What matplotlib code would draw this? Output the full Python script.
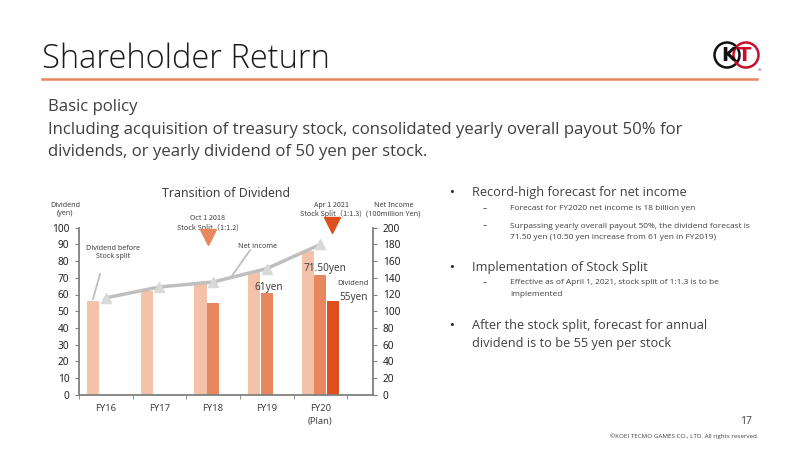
import matplotlib
matplotlib.use("Agg")
import matplotlib.pyplot as plt
from matplotlib.patches import Circle
import numpy as np

plt.rcParams['font.family'] = ['Noto Sans', 'DejaVu Sans']

# ---- data ----
categories = ["FY16", "FY17", "FY18", "FY19", "FY20\n(Plan)"]
div_before_split = [56, 62, 66, 73.2, 86]          # before any split (yen)
div_after_split1 = [np.nan, np.nan, 55, 61, 71.5]  # after Oct 2018 split (1:1.2)
div_after_split2 = [np.nan, np.nan, np.nan, np.nan, 56]  # after Apr 2021 split (1:1.3)
net_income = [116, 129, 135, 151, 180]             # 100 million yen
left_ticks = list(range(0, 101, 10))
right_ticks = list(range(0, 201, 20))

C_LIGHT = "#F4C1A9"
C_MED = "#E8875F"
C_DARK = "#DD501E"
C_LINE = "#BFBFBF"
C_TXT = "#404040"

W, H = 800, 450
fig = plt.figure(figsize=(8, 4.5), dpi=100)
fig.patch.set_facecolor("white")

def fx(x): return x / W
def fy(y): return 1 - y / H

OS = ["Open Sans", "DejaVu Sans"]

# ---- slide header ----
fig.text(fx(42), fy(68), "Shareholder Return", fontsize=23.5, color="#1a1a1a",
         family=OS, fontweight="light", va="baseline")
fig.add_artist(plt.Line2D([fx(42), fx(757)], [fy(79), fy(79)], color="#E8845C", lw=1.8))

# logo
lax = fig.add_axes([fx(712), fy(72), 50 / W, 34 / H])
lax.set_xlim(0, 50); lax.set_ylim(0, 34); lax.set_aspect("equal"); lax.axis("off")
lax.add_patch(Circle((15, 17), 12.5, fill=False, ec="#111111", lw=1.8))
lax.add_patch(Circle((34, 17), 12.5, fill=False, ec="#C8102E", lw=1.8))
lax.text(16.5, 16.5, "K", ha="center", va="center", fontsize=14, fontweight="bold", color="#111111",
         family="DejaVu Sans")
lax.text(32.5, 16.5, "T", ha="center", va="center", fontsize=14, fontweight="bold", color="#C8102E",
         family="DejaVu Sans")
lax.text(48, 2, "®", ha="center", va="center", fontsize=3, color="#333333")

# basic policy
for yy, t in [(107, "Basic policy"),
              (130, "Including acquisition of treasury stock, consolidated yearly overall payout 50% for"),
              (152, "dividends, or yearly dividend of 50 yen per stock.")]:
    fig.text(fx(48), fy(yy), t, fontsize=12.1, color=C_TXT, va="center", family=OS)

# right bullets
def bullet(y, txt):
    fig.text(fx(452), fy(y), "•", fontsize=9.5, color="#222222", va="center", ha="center")
    fig.text(fx(472), fy(y), txt, fontsize=9.2, color=C_TXT, va="center", family=OS)
def sub(y, txt, dash=True):
    if dash:
        fig.text(fx(485), fy(y), "–", fontsize=6, color=C_TXT, va="center", ha="center")
    fig.text(fx(510), fy(y), txt, fontsize=6.0, color=C_TXT, va="center", family=OS)

bullet(192, "Record-high forecast for net income")
sub(209, "Forecast for FY2020 net income is 18 billion yen")
sub(226, "Surpassing yearly overall payout 50%, the dividend forecast is")
sub(238, "71.50 yen (10.50 yen increase from 61 yen in FY2019)", dash=False)
bullet(267, "Implementation of Stock Split")
sub(283, "Effective as of April 1, 2021, stock split of 1:1.3 is to be")
sub(295, "implemented", dash=False)
bullet(325, "After the stock split, forecast for annual")
fig.text(fx(472), fy(343), "dividend is to be 55 yen per stock", fontsize=9.2, color=C_TXT,
         va="center", family=OS)

fig.text(fx(752), fy(422), "17", fontsize=7.5, color=C_TXT, ha="right", va="center", family=OS)
fig.text(fx(758), fy(436), "©KOEI TECMO GAMES CO., LTD. All rights reserved.", fontsize=4.5,
         color=C_TXT, ha="right", va="center", family=OS)

# ---- chart ----
ax = fig.add_axes([fx(79), fy(394.7), (373 - 79) / W, (394.7 - 227.7) / H])
x = np.arange(len(categories))
bw = 0.225
off = 0.235
ax.bar(x - off, div_before_split, bw, color=C_LIGHT, zorder=2)
ax.bar(x, div_after_split1, bw, color=C_MED, zorder=2)
ax.bar(x + off, div_after_split2, bw, color=C_DARK, zorder=2)
ax.set_xlim(-0.5, 4.98)
ax.set_ylim(0, 100)
ax.set_yticks(left_ticks)
ax.set_xticks(x)
ax.set_xticklabels(categories, fontsize=6.8, color=C_TXT, linespacing=1.45)
ax.set_xticks(np.arange(-0.5, 4.6, 1.0), minor=True)
ax.tick_params(axis="x", which="major", length=0, pad=7)
ax.tick_params(axis="x", which="minor", length=3, color="#808080", direction="out")
ax.tick_params(axis="y", labelsize=7.3, labelcolor="#222222", length=3, color="#808080", pad=4)
for s in ["top", "right"]:
    ax.spines[s].set_visible(False)
for s in ["left", "bottom"]:
    ax.spines[s].set_color("#808080")
    ax.spines[s].set_linewidth(1.3)

ax2 = ax.twinx()
ax2.set_ylim(0, 200)
ax2.set_yticks(right_ticks)
ax2.plot(x, net_income, color=C_LINE, lw=2.5, marker="^", markersize=7,
         markerfacecolor="#D9D9D9", markeredgecolor="#D9D9D9", zorder=3, clip_on=False)
ax2.tick_params(axis="y", labelsize=7.3, labelcolor="#222222", length=3, color="#808080", pad=4)
for s in ["top", "left", "bottom"]:
    ax2.spines[s].set_visible(False)
ax2.spines["right"].set_color("#808080")
ax2.spines["right"].set_linewidth(1.3)

# annotations (in dividend data coords)
tk = dict(color=C_TXT, clip_on=False, zorder=5)
ax.text(2.24, 120.2, "Transition of Dividend", fontsize=8.9, ha="center", va="center", **tk)
ax.text(-0.76, 110.6, "Dividend\n(yen)", fontsize=5.2, ha="center", va="center", linespacing=1.2, **tk)
ax.text(5.36, 110.6, "Net Income\n(100million Yen)", fontsize=5.2, ha="center", va="center",
        linespacing=1.2, **tk)
ax.text(1.90, 102.8, "Oct 1 2018\nStock Split（1:1.2)", fontsize=5.2, ha="center", va="center",
        linespacing=1.2, family=["Noto Sans CJK JP", "DejaVu Sans"], **tk)
ax.text(4.20, 110.8, "Apr 1 2021\nStock Split（1:1.3)", fontsize=5.2, ha="center", va="center",
        linespacing=1.2, family=["Noto Sans CJK JP", "DejaVu Sans"], **tk)
ax.plot([1.907], [94.4], marker="v", markersize=11, color=C_MED, clip_on=False, zorder=5)
ax.plot([4.22], [101.6], marker="v", markersize=11, color=C_DARK, clip_on=False, zorder=5)

ax.text(0.134, 85.1, "Dividend before\nStock split", fontsize=5.2, ha="center", va="center",
        linespacing=1.3, **tk)
ax.plot([-0.108, -0.239], [72.3, 57.3], color=C_LINE, lw=1.3, zorder=4)
ax.text(2.82, 89, "Net income", fontsize=5.2, ha="center", va="center", **tk)
ax.plot([2.69, 2.336], [86.6, 70.5], color=C_LINE, lw=1.3, zorder=4)

ax.text(4.09, 75.3, "71.50yen", fontsize=7.2, ha="center", va="center", **tk)
ax.text(3.045, 63.9, "61yen", fontsize=7.2, ha="center", va="center", **tk)
ax.text(4.61, 66.3, "Dividend", fontsize=5.4, ha="center", va="center", **tk)
ax.text(4.61, 58.5, "55yen", fontsize=7.2, ha="center", va="center", **tk)

fig.savefig("out.png", dpi=100)
